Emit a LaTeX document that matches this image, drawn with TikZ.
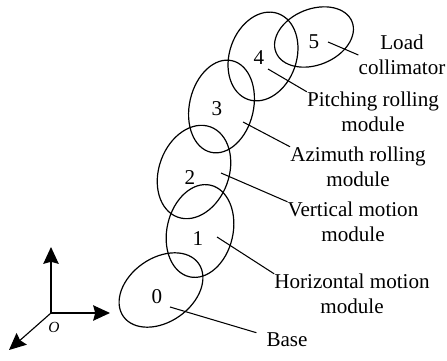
\documentclass[tikz,border=0pt]{standalone}
\usepackage{fontspec}
\setmainfont{Liberation Serif}
\usetikzlibrary{arrows.meta}

\begin{document}
\begin{tikzpicture}[x=0.025cm,y=0.025cm,
	module/.style={line width=0.85pt},
	lbl/.style={align=center,inner sep=0pt,font=\fontsize{15}{17.8}\selectfont},
	num/.style={inner sep=1pt,font=\fontsize{15}{18}\selectfont},
	leader/.style={line width=0.75pt},
	axis/.style={line width=0.8pt,-{Stealth[length=12pt,width=11pt,inset=1.5pt]}}]
	\fill[white] (0,0) rectangle (447,361);
	% modules
	\draw[module,rotate around={35:(161,71)}] (161,71) ellipse (46 and 32);
	\draw[module,rotate around={77:(200,130)}] (200,130) ellipse (47 and 33);
	\draw[module,rotate around={70:(194,189)}] (194,189) ellipse (48 and 35);
	\draw[module,rotate around={77:(221.5,254.5)}] (221.5,254.5) ellipse (47 and 32);
	\draw[module,rotate around={71:(263,304.5)}] (263,304.5) ellipse (45.5 and 33.5);
	\draw[module,rotate around={22:(314,324)}] (314,324) ellipse (41 and 28);
	\node[num] (d0) at (157,64) {0};
	\node[num] (d1) at (198,122) {1};
	\node[num] (d2) at (190,183) {2};
	\node[num] (d3) at (217,252) {3};
	\node[num] (d4) at (259,303) {4};
	\node[num] (d5) at (314,319) {5};
	% labels
	\node[lbl] (load) at (402,306) {Load\\collimator};
	\node[lbl] (pitch) at (373,249) {Pitching rolling\\module};
	\node[lbl] (azi) at (358,194) {Azimuth rolling\\module};
	\node[lbl] (vert) at (353,139) {Vertical motion\\module};
	\node[lbl] (horiz) at (352,67) {Horizontal motion\\module};
	\node[lbl] (base) at (287,21) {Base};
	\coordinate (s0) at (170,54);
	\coordinate (s1) at (217,124);
	\coordinate (s2) at (221,188);
	\coordinate (s3) at (243,239);
	\coordinate (s4) at (268,292);
	\coordinate (s5) at (328,319);
	\draw[leader] (s0) -- ([xshift=-7pt]base.north west);
	\draw[leader] (s1) -- (horiz.north west);
	\draw[leader] (s2) -- (vert.north west);
	\draw[leader] (s3) -- (azi.north west);
	\draw[leader] (s4) -- (pitch.north west);
	\draw[leader] (s5) -- (load.west);
	% axes
	\coordinate (O) at (51,48);
	\coordinate (ax) at (110,48);
	\coordinate (ay) at (51,114);
	\coordinate (az) at (9,11);
	\draw[axis] (O) -- (ay);
	\draw[axis] (O) -- (ax);
	\draw[axis] (O) -- (az);
	\node[font=\fontsize{11}{13}\selectfont\itshape] (olbl) at (54,34) {O};
\end{tikzpicture}
\end{document}
